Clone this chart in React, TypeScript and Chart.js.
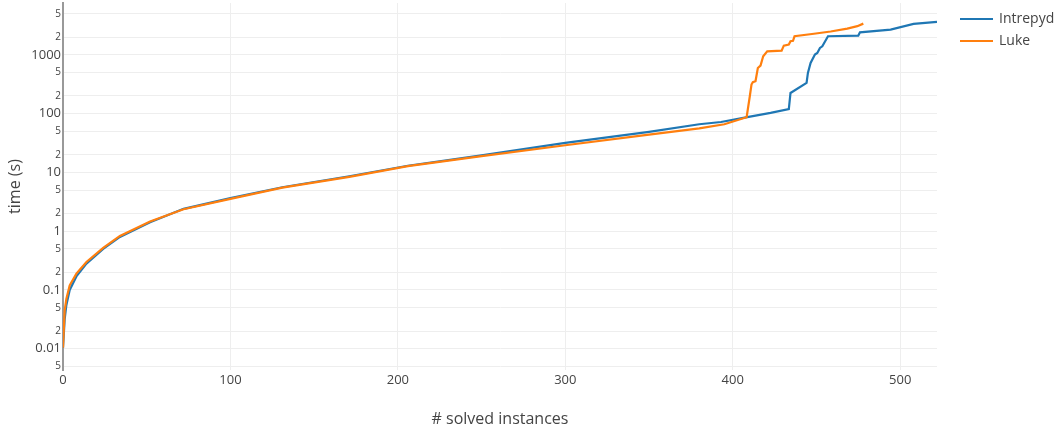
import React, { useEffect, useRef } from "react";
import { Chart, registerables } from "chart.js";

Chart.register(...registerables);

// ---- Data ----
const seriesNames = ["Intrepyd", "Luke"];
const seriesColors = ["#1f77b4", "#ff7f0e"];

const intrepydX = [
  0, 1, 2, 4, 8, 14, 24, 34, 52, 72, 100, 131, 171, 206, 250, 300, 350, 380,
  393, 408.7, 422.6, 433.5, 434.5, 444.1, 444.9, 446.5, 449.1, 450.5, 452.1,
  453.5, 456.9, 475, 476, 494.3, 508, 522,
];
const intrepydY = [
  0.0104, 0.032, 0.055, 0.1, 0.17, 0.28, 0.5, 0.8, 1.42, 2.4, 3.65, 5.6, 8.6,
  13, 19.5, 31.8, 49, 66, 72, 87, 103, 120, 225, 333, 492, 728, 1012, 1080,
  1310, 1400, 2072, 2130, 2420, 2690, 3360, 3630,
];

const lukeX = [
  0, 1, 2, 4, 8, 14, 24, 34, 52, 72, 100, 131, 171, 206, 250, 300, 350, 380,
  395, 408.3, 410.2, 411.2, 412, 413.6, 415, 416.6, 418.2, 420.6, 429.2, 430.5,
  433.5, 434.5, 436, 436.9, 448.5, 458.5, 468.4, 474.4, 478,
];
const lukeY = [
  0.0104, 0.045, 0.07, 0.12, 0.19, 0.3, 0.52, 0.83, 1.46, 2.36, 3.55, 5.5,
  8.4, 12.8, 19, 29, 44, 56, 66, 87, 198, 313, 342, 356, 598, 658, 946, 1151,
  1180, 1438, 1500, 1703, 1740, 2072, 2290, 2500, 2800, 3080, 3400,
];

const xTickValues = [0, 100, 200, 300, 400, 500];
const yDecades = [0.001, 0.01, 0.1, 1, 10, 100, 1000];
const yDecadeLabels = ["0.001", "0.01", "0.1", "1", "10", "100", "1000"];
const yMinorMultipliers = [2, 5];

const xMin = 0;
const xMax = 522;
const yMin = 0.00435;
const yMax = 7630;

const FONT = "'Open Sans', 'Noto Sans', sans-serif";
const TEXT = "#444";

function toPoints(xs: number[], ys: number[]) {
  return xs.map((x, i) => ({ x, y: ys[i] }));
}

const legendPlugin = {
  id: "plotlyLegend",
  afterDraw(chart: any) {
    const ctx = chart.ctx;
    ctx.save();
    const x0 = 960;
    const rows = [19, 41];
    seriesNames.forEach((name, i) => {
      const y = rows[i];
      ctx.strokeStyle = seriesColors[i];
      ctx.lineWidth = 2.2;
      ctx.beginPath();
      ctx.moveTo(x0, y);
      ctx.lineTo(x0 + 33, y);
      ctx.stroke();
      ctx.fillStyle = TEXT;
      ctx.font = `14px ${FONT}`;
      ctx.textBaseline = "middle";
      ctx.textAlign = "left";
      ctx.fillText(name, x0 + 39, y);
    });
    ctx.restore();
  },
};

export default function App() {
  const canvasRef = useRef<HTMLCanvasElement | null>(null);

  useEffect(() => {
    const canvas = canvasRef.current;
    if (!canvas) return;

    const chart = new Chart(canvas, {
      type: "line",
      data: {
        datasets: [
          {
            label: seriesNames[0],
            data: toPoints(intrepydX, intrepydY),
            borderColor: seriesColors[0],
            backgroundColor: seriesColors[0],
            borderWidth: 2.2,
            pointRadius: 0,
            tension: 0,
            fill: false,
            order: 1,
          },
          {
            label: seriesNames[1],
            data: toPoints(lukeX, lukeY),
            borderColor: seriesColors[1],
            backgroundColor: seriesColors[1],
            borderWidth: 2.2,
            pointRadius: 0,
            tension: 0,
            fill: false,
            order: 0,
          },
        ],
      },
      options: {
        animation: false,
        responsive: true,
        maintainAspectRatio: false,
        layout: { padding: { left: 0, top: 3, right: 118, bottom: 0 } },
        plugins: {
          legend: { display: false },
          tooltip: { enabled: false },
        },
        scales: {
          x: {
            type: "linear",
            min: xMin,
            max: xMax,
            afterFit: (s: any) => {
              s.height = 59;
              s.paddingLeft = 0;
              s.paddingRight = 0;
            },
            afterBuildTicks: (s: any) => {
              s.ticks = xTickValues.map((v) => ({ value: v }));
            },
            grid: { color: "#eeeeee", lineWidth: 1, drawTicks: false },
            border: { display: false },
            ticks: {
              padding: 2,
              color: TEXT,
              font: { family: FONT, size: 13 },
              maxRotation: 0,
              autoSkip: false,
            },
            title: {
              display: true,
              text: "# solved instances",
              color: TEXT,
              font: { family: FONT, size: 16 },
              padding: { top: 0, bottom: 0 },
            },
          },
          y: {
            type: "logarithmic",
            min: yMin,
            max: yMax,
            afterFit: (s: any) => {
              s.width = 63;
              s.paddingTop = 0;
              s.paddingBottom = 0;
            },
            afterBuildTicks: (s: any) => {
              const t: any[] = [];
              yDecades.forEach((d, i) => {
                if (d >= yMin && d <= yMax)
                  t.push({ value: d, major: true, label: yDecadeLabels[i] });
                yMinorMultipliers.forEach((m) => {
                  const v = d * m;
                  if (v >= yMin && v <= yMax)
                    t.push({ value: v, major: false, label: String(m) });
                });
              });
              t.sort((a, b) => a.value - b.value);
              s.ticks = t;
            },
            grid: { color: "#eeeeee", lineWidth: 1, drawTicks: false },
            border: { display: true, color: "#999999", width: 2 },
            ticks: {
              padding: 2,
              color: TEXT,
              autoSkip: false,
              font: (c: any) => ({
                family: FONT,
                size: c.tick && c.tick.major ? 13 : 10,
              }),
              callback: function (this: any, value: any, index: number, ticks: any[]) {
                const tk = ticks[index];
                return tk && tk.label !== undefined ? tk.label : String(value);
              },
            },
            title: {
              display: true,
              text: "time (s)",
              color: TEXT,
              font: { family: FONT, size: 16 },
              padding: { top: 6, bottom: 0 },
            },
          },
        },
      },
      plugins: [legendPlugin],
    } as any);

    return () => {
      chart.destroy();
    };
  }, []);

  return (
    <div
      style={{
        position: "fixed",
        left: 0,
        top: 0,
        width: 1055,
        height: 429,
        background: "#ffffff",
      }}
    >
      <canvas ref={canvasRef} />
    </div>
  );
}
